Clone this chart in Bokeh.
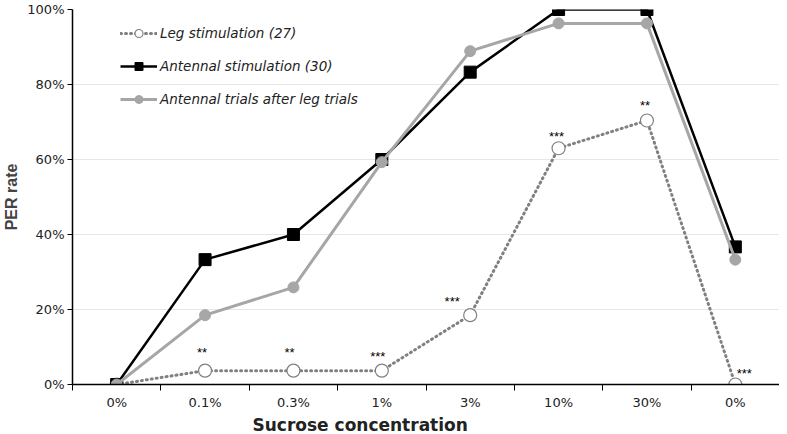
from bokeh.plotting import figure
from bokeh.models import FixedTicker, Range1d, Legend, LegendItem, ColumnDataSource, Title
from bokeh.core.properties import value
from bokeh.embed import file_html
from bokeh.resources import INLINE

categories = ["0%", "0.1%", "0.3%", "1%", "3%", "10%", "30%", "0%"]
leg = [0.0, 3.7, 3.7, 3.7, 18.5, 63.0, 70.4, 0.0]
antennal = [0.0, 33.3, 40.0, 60.0, 83.3, 100.0, 100.0, 36.7]
after_leg = [0.0, 18.5, 25.9, 59.3, 88.9, 96.3, 96.3, 33.3]
stars = ["", "**", "**", "***", "***", "***", "**", "***"]

xs = [i + 0.5 for i in range(len(categories))]

p = figure(width=779, height=434, output_backend="svg", toolbar_location=None,
           x_range=Range1d(0, len(categories)), y_range=Range1d(0, 100),
           min_border_left=0, min_border_right=0, min_border_top=9, min_border_bottom=0)
p.outline_line_color = None
p.background_fill_color = "white"
p.border_fill_color = "white"

FONT = "DejaVu Sans"
NARROW = "Liberation Sans"

# x axis
p.xaxis.ticker = FixedTicker(ticks=xs, minor_ticks=list(range(len(categories) + 1)))
p.xaxis.major_label_overrides = {x: c for x, c in zip(xs, categories)}
p.xaxis.major_tick_line_color = None
p.xaxis.major_tick_in = 0
p.xaxis.major_tick_out = 0
p.xaxis.minor_tick_line_color = "black"
p.xaxis.minor_tick_in = 0
p.xaxis.minor_tick_out = 6
p.xaxis.axis_line_color = "black"
p.xaxis.axis_line_width = 1.5
p.xaxis.major_label_text_font = FONT
p.xaxis.major_label_text_font_size = "13px"
p.xaxis.major_label_text_color = "#222222"
p.xaxis.major_label_standoff = 4

# off-centre x-axis title, as in the reference
xtitle = Title(text="Sucrose concentration", align="left", offset=180, standoff=0,
               text_font=FONT, text_font_style="bold", text_font_size="17px",
               text_color="#222222")
p.add_layout(xtitle, "below")

# y axis
p.yaxis.ticker = FixedTicker(ticks=[0, 20, 40, 60, 80, 100])
p.yaxis.major_label_overrides = {v: f"{v}%" for v in [0, 20, 40, 60, 80, 100]}
p.yaxis.minor_tick_line_color = None
p.yaxis.major_tick_in = 0
p.yaxis.major_tick_out = 5
p.yaxis.axis_line_color = "black"
p.yaxis.axis_line_width = 1.5
p.yaxis.axis_label = "PER rate"
p.yaxis.axis_label_text_font = NARROW
p.yaxis.axis_label_text_font_style = "bold"
p.yaxis.axis_label_text_font_size = "16px"
p.yaxis.axis_label_standoff = 4
p.yaxis.major_label_text_font = FONT
p.yaxis.major_label_text_font_size = "13px"
p.yaxis.major_label_text_color = "#222222"
p.yaxis.major_label_standoff = 3

p.xgrid.grid_line_color = None
p.ygrid.grid_line_color = "#e6e6e6"
p.ygrid.grid_line_width = 1

# series
r1l = p.line(xs, leg, line_color="#808080", line_width=3, line_dash="1 4", line_cap="round")
r1m = p.scatter(xs, leg, marker="circle", size=13, fill_color="white", line_color="#808080", line_width=1.2)

r2l = p.line(xs, antennal, line_color="black", line_width=2.5)
r2m = p.scatter(xs, antennal, marker="square", size=12, fill_color="black", line_color="black")

r3l = p.line(xs, after_leg, line_color="#a6a6a6", line_width=3)
r3m = p.scatter(xs, after_leg, marker="circle", size=11, fill_color="#a6a6a6", line_color="#a6a6a6")

# significance stars
x_off = [0, -3, -4, -4, -18, -2, -2, 9]
y_off = [0, -18, -18, -14, -14, -12, -15, -11]
src = ColumnDataSource(dict(x=xs, y=leg, t=stars, xo=x_off, yo=y_off))
p.text(x="x", y="y", text="t", x_offset="xo", y_offset="yo", source=src,
       text_font=value(NARROW), text_font_size="13px", text_align="center",
       text_baseline="middle", text_color="black")

legend = Legend(items=[
    LegendItem(label="Leg stimulation (27)", renderers=[r1l, r1m]),
    LegendItem(label="Antennal stimulation (30)", renderers=[r2l, r2m]),
    LegendItem(label="Antennal trials after leg trials", renderers=[r3l, r3m]),
], location=(48, 275))
legend.label_text_font = FONT
legend.label_text_font_style = "italic"
legend.label_text_font_size = "13.5px"
legend.label_text_color = "#222222"
legend.glyph_width = 37
legend.glyph_height = 20
legend.label_height = 20
legend.spacing = 13
legend.padding = 0
legend.margin = 0
legend.label_standoff = 3
legend.border_line_color = None
legend.background_fill_alpha = 0
p.add_layout(legend, "center")

open("out.html", "w").write(file_html(p, INLINE))
